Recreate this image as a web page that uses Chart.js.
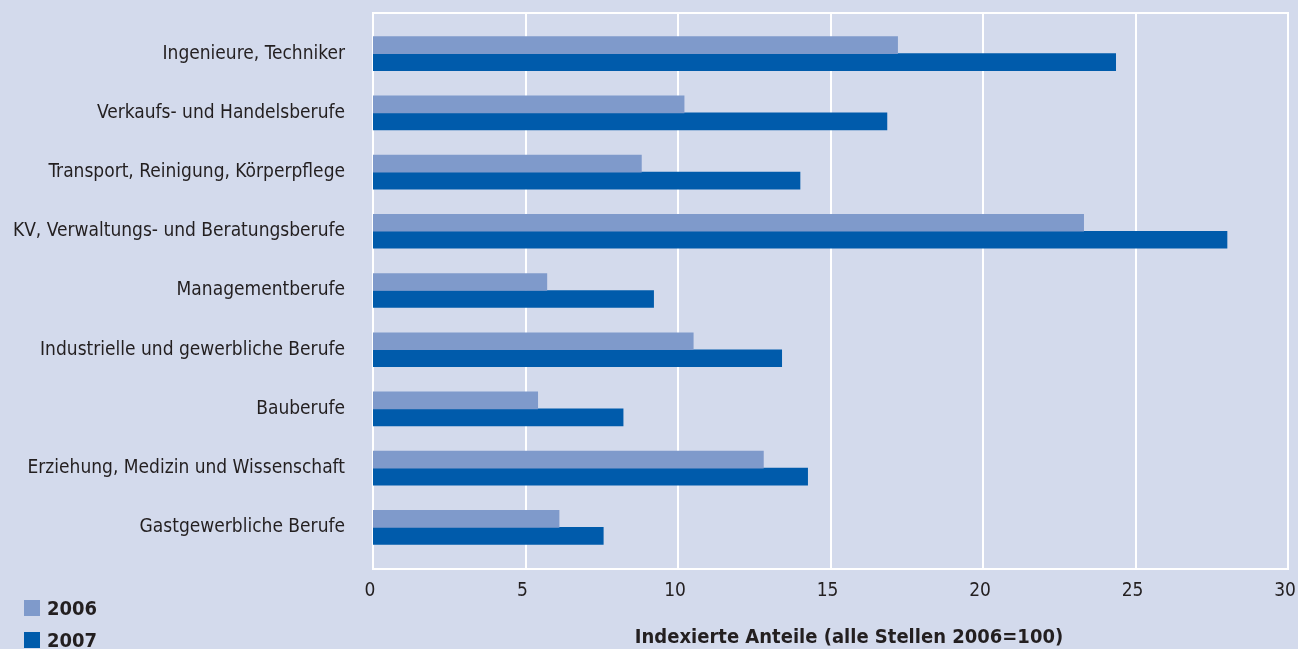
<!DOCTYPE html>
<html>
<head>
<meta charset="utf-8">
<script src="https://cdn.jsdelivr.net/npm/chart.js@4"></script>
<style>
  html, body { margin: 0; padding: 0; background: #d3daec; }
  #wrap { position: relative; width: 1298px; height: 649px; }
  canvas { position: absolute; left: 0; top: 0; }
  .leg { position: absolute; left: 24px; font: bold 20px "DejaVu Sans Condensed", "DejaVu Sans", sans-serif; font-stretch: condensed; color: #231f20; display: flex; align-items: center; }
  .leg span.sw { display: inline-block; width: 16px; height: 16px; margin-right: 7px; }
  #title { position: absolute; left: 549px; width: 600px; top: 624px; text-align: center; font: bold 20px "DejaVu Sans Condensed", "DejaVu Sans", sans-serif; font-stretch: condensed; color: #231f20; white-space: nowrap; }
</style>
</head>
<body>
<div id="wrap">
  <canvas id="c" width="1298" height="649"></canvas>
  <div class="leg" id="l1" style="top:596px"><span class="sw" id="s1"></span><span id="t1"></span></div>
  <div class="leg" id="l2" style="top:628px"><span class="sw" id="s2"></span><span id="t2"></span></div>
  <div id="title"></div>
</div>
<script>
const categories = [
  "Ingenieure, Techniker",
  "Verkaufs- und Handelsberufe",
  "Transport, Reinigung, Körperpflege",
  "KV, Verwaltungs- und Beratungsberufe",
  "Managementberufe",
  "Industrielle und gewerbliche Berufe",
  "Bauberufe",
  "Erziehung, Medizin und Wissenschaft",
  "Gastgewerbliche Berufe"
];
const seriesNames = ["2006", "2007"];
const values2006 = [17.2, 10.2, 8.8, 23.3, 5.7, 10.5, 5.4, 12.8, 6.1];
const values2007 = [24.35, 16.85, 14.0, 28.0, 9.2, 13.4, 8.2, 14.25, 7.55];
const xTicks = [0, 5, 10, 15, 20, 25, 30];
const axisTitle = "Indexierte Anteile (alle Stellen 2006=100)";

const colors = ["#7f9acb", "#005bab"];
const textColor = "#231f20";
const condensed = '"DejaVu Sans Condensed", "DejaVu Sans", sans-serif';

document.getElementById("s1").style.background = colors[0];
document.getElementById("s2").style.background = colors[1];
document.getElementById("t1").textContent = seriesNames[0];
document.getElementById("t2").textContent = seriesNames[1];
document.getElementById("title").textContent = axisTitle;

const framePlugin = {
  id: "frame",
  beforeDatasetsDraw(chart) {
    const ctx = chart.ctx;
    const xs = chart.scales.x;
    const area = chart.chartArea;
    const top = area.top - 11, bottom = area.bottom + 12;
    ctx.save();
    ctx.strokeStyle = "#ffffff";
    ctx.lineWidth = 2;
    ctx.beginPath();
    xTicks.forEach(v => {
      const x = Math.round(xs.getPixelForValue(v));
      ctx.moveTo(x, top);
      ctx.lineTo(x, bottom);
    });
    const x0 = xs.getPixelForValue(xTicks[0]);
    const x1 = xs.getPixelForValue(xTicks[xTicks.length - 1]);
    ctx.moveTo(x0 - 1, top);
    ctx.lineTo(x1 + 1, top);
    ctx.moveTo(x0 - 1, bottom);
    ctx.lineTo(x1 + 1, bottom);
    ctx.stroke();
    ctx.restore();
  }
};

new Chart(document.getElementById("c"), {
  type: "bar",
  data: {
    labels: categories,
    datasets: [
      { label: seriesNames[0], data: values2006, backgroundColor: colors[0], barThickness: 17, borderWidth: 0 },
      { label: seriesNames[1], data: values2007, backgroundColor: colors[1], barThickness: 17, borderWidth: 0 }
    ]
  },
  options: {
    indexAxis: "y",
    responsive: false,
    animation: false,
    devicePixelRatio: 1,
    layout: { padding: { top: 24, right: 10, left: 0, bottom: 0 } },
    plugins: { legend: { display: false }, tooltip: { enabled: false } },
    scales: {
      x: {
        min: 0, max: 30,
        afterBuildTicks(scale) { scale.ticks = xTicks.map(v => ({ value: v })); },
        afterFit(scale) { scale.height = 92; scale.paddingLeft = 0; scale.paddingRight = 0; },
        grid: { display: false, drawTicks: false },
        border: { display: false },
        ticks: { color: textColor, font: { family: condensed, size: 19 }, padding: 23, labelOffset: -3 }
      },
      y: {
        offset: true,
        afterFit(scale) { scale.width = 373; scale.paddingTop = 0; scale.paddingBottom = 0; },
        grid: { display: false, drawTicks: false },
        border: { display: false },
        ticks: { color: textColor, font: { family: condensed, size: 19 }, padding: 28, autoSkip: false }
      }
    }
  },
  plugins: [framePlugin]
});
</script>
</body>
</html>
